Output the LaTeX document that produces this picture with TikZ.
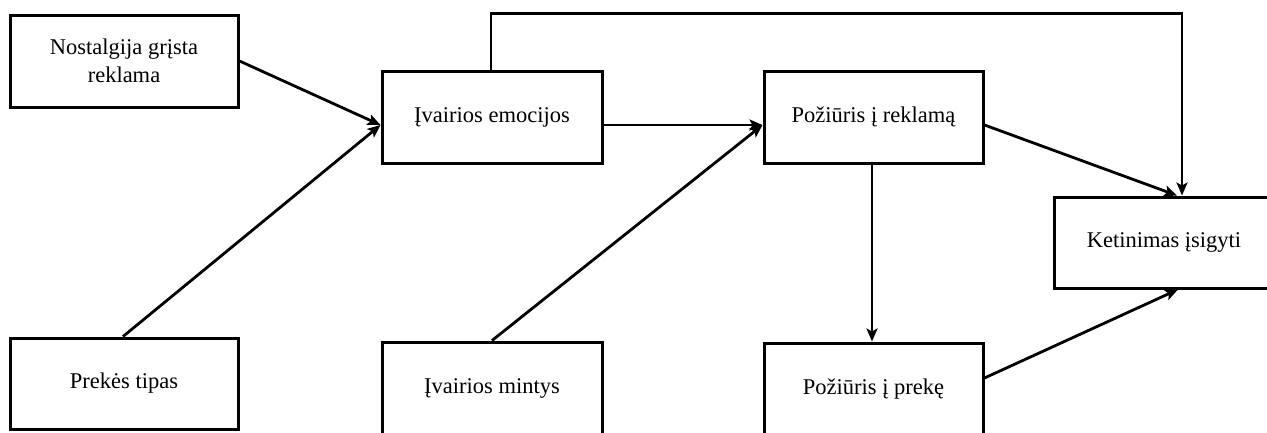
\documentclass[tikz,border=0pt]{standalone}
\usepackage{fontspec}
\setmainfont{Liberation Serif}
\usetikzlibrary{arrows.meta}
\begin{document}
\begin{tikzpicture}[x=1pt,y=-1pt,
  box/.style={draw=black,line width=3pt,fill=white,inner sep=0pt,
    align=center,font=\fontsize{22.5}{27.5}\selectfont},
  link/.style={line width=2.8pt,draw=black},
  arr/.style={link,-{Stealth[length=13pt,width=11pt,inset=3pt]}}]
\useasboundingbox (0,0) rectangle (1267,432);
\clip (0,0) rectangle (1267,432);
\fill[white] (0,0) rectangle (1267,432);

% boxes
\node[box,minimum width=228pt,minimum height=92pt] (A) at (124,61) {Nostalgija grįsta\\reklama};
\node[box,minimum width=228pt,minimum height=91pt] (B) at (124,383.5) {Prekės tipas};
\node[box,minimum width=220pt,minimum height=92pt] (C) at (492,117) {Įvairios emocijos};
\node[box,minimum width=220pt,minimum height=92pt] (D) at (492,388) {Įvairios mintys};
\node[box,minimum width=219pt,minimum height=92pt] (E) at (873.5,117) {Požiūris į reklamą};
\node[box,minimum width=219pt,minimum height=92pt] (F) at (873.5,389) {Požiūris į prekę};
\node[box,minimum width=220pt,minimum height=91pt] (G) at (1164,242.5) {Ketinimas įsigyti};

% connectors
\draw[arr] (A.east) -- ([yshift=-8pt]C.west);
\draw[arr] ([xshift=-1pt]B.north) -- ([yshift=-8pt]C.west);
\draw[arr] ([yshift=-8pt]C.east) -- ([yshift=-8pt]E.west);
\draw[arr] (D.north) -- ([yshift=-8pt]E.west);
\draw[arr] ([xshift=-1pt]C.north) -- ++(0,-56) -| ([xshift=18pt]G.north);
\draw[arr] ([yshift=-8pt]E.east) -- ([xshift=13pt]G.north);
\draw[arr] ([xshift=-1.5pt]E.south) -- ([xshift=-1.5pt]F.north);
\draw[arr] ([yshift=11pt]F.east) -- ([xshift=14pt]G.south);
\end{tikzpicture}
\end{document}
